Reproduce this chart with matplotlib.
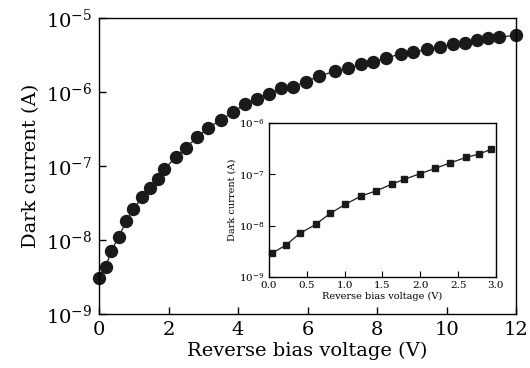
import matplotlib
matplotlib.use("Agg")
import matplotlib.pyplot as plt
from matplotlib.ticker import FixedLocator, FixedFormatter

plt.rcParams['font.family'] = ['DejaVu Serif']
plt.rcParams['mathtext.fontset'] = 'dejavuserif'

# main curve: 0 - 12 V
volt = [0.0, 0.19, 0.35, 0.57, 0.79, 0.99, 1.24, 1.47, 1.69, 1.87,
        2.21, 2.50, 2.83, 3.15, 3.51, 3.87, 4.20, 4.54, 4.89, 5.24,
        5.59, 5.96, 6.34, 6.79, 7.17, 7.55, 7.89, 8.26, 8.68, 9.04,
        9.43, 9.81, 10.18, 10.53, 10.87, 11.19, 11.52, 12.0]
dark = [3.1e-9, 4.3e-9, 7.1e-9, 1.11e-8, 1.82e-8, 2.62e-8, 3.78e-8, 5.0e-8, 6.6e-8, 9.0e-8,
        1.31e-7, 1.77e-7, 2.47e-7, 3.30e-7, 4.19e-7, 5.42e-7, 6.82e-7, 7.96e-7, 9.3e-7, 1.12e-6,
        1.18e-6, 1.38e-6, 1.64e-6, 1.92e-6, 2.09e-6, 2.37e-6, 2.58e-6, 2.85e-6, 3.30e-6, 3.44e-6,
        3.78e-6, 4.02e-6, 4.41e-6, 4.55e-6, 5.05e-6, 5.32e-6, 5.48e-6, 5.89e-6]

# inset: 0 - 3 V
volt_in = [0.04, 0.22, 0.41, 0.62, 0.81, 1.01, 1.21, 1.41, 1.62, 1.79,
           1.99, 2.20, 2.39, 2.61, 2.78, 2.94]
dark_in = [2.9e-9, 4.15e-9, 7.1e-9, 1.06e-8, 1.74e-8, 2.61e-8, 3.73e-8, 4.73e-8, 6.4e-8, 8.0e-8,
           1.02e-7, 1.31e-7, 1.66e-7, 2.15e-7, 2.49e-7, 3.08e-7]

main_xticks = [0, 2, 4, 6, 8, 10, 12]
main_yticks = [1e-9, 1e-8, 1e-7, 1e-6, 1e-5]
main_ylabels = [r'$10^{-9}$', r'$10^{-8}$', r'$10^{-7}$', r'$10^{-6}$', r'$10^{-5}$']
in_xticks = [0.0, 0.5, 1.0, 1.5, 2.0, 2.5, 3.0]
in_yticks = [1e-9, 1e-8, 1e-7, 1e-6]
in_ylabels = [r'$10^{-9}$', r'$10^{-8}$', r'$10^{-7}$', r'$10^{-6}$']

fig = plt.figure(figsize=(5.3, 3.68), dpi=100)

ax = fig.add_axes([0.1868, 0.1467, 0.7868, 0.8043])
ax.plot(volt, dark, color='#1a1a1a', lw=0.9, marker='o', ms=8.6, clip_on=False)
ax.set_yscale('log')
ax.set_xlim(0, 12)
ax.set_ylim(1e-9, 1e-5)
ax.xaxis.set_major_locator(FixedLocator(main_xticks))
ax.yaxis.set_major_locator(FixedLocator(main_yticks))
ax.yaxis.set_major_formatter(FixedFormatter(main_ylabels))
ax.yaxis.set_minor_locator(FixedLocator([]))
ax.tick_params(direction='in', length=5, width=1, labelsize=14, pad=5)
ax.set_xlabel('Reverse bias voltage (V)', fontsize=14, labelpad=2)
ax.set_ylabel('Dark current (A)', fontsize=14, labelpad=4)
for s in ax.spines.values():
    s.set_linewidth(1)

ins = fig.add_axes([0.5075, 0.2473, 0.4283, 0.4185])
ins.plot(volt_in, dark_in, color='#1a1a1a', lw=0.9, marker='s', ms=5, clip_on=False)
ins.set_yscale('log')
ins.set_xlim(0, 3)
ins.set_ylim(1e-9, 1e-6)
ins.xaxis.set_major_locator(FixedLocator(in_xticks))
ins.xaxis.set_major_formatter(FixedFormatter(['%.1f' % v for v in in_xticks]))
ins.yaxis.set_major_locator(FixedLocator(in_yticks))
ins.yaxis.set_major_formatter(FixedFormatter(in_ylabels))
ins.yaxis.set_minor_locator(FixedLocator([]))
ins.tick_params(direction='in', length=4, width=0.8, labelsize=7.5, pad=3)
ins.set_xlabel('Reverse bias voltage (V)', fontsize=7, labelpad=1)
ins.set_ylabel('Dark current (A)', fontsize=7, labelpad=2)
for s in ins.spines.values():
    s.set_linewidth(1)

fig.savefig('out.png', dpi=100)
